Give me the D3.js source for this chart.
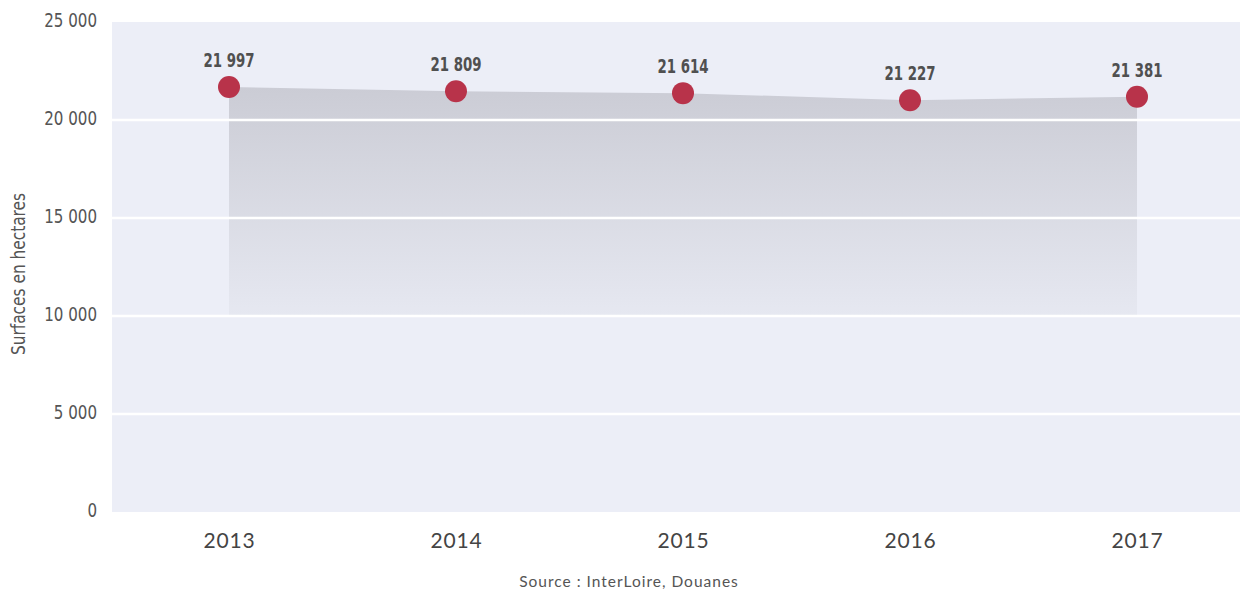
<!DOCTYPE html>
<html>
<head>
<meta charset="utf-8">
<script src="https://cdn.jsdelivr.net/npm/d3@7"></script>
<style>
  body { margin: 0; background: #fff; }
  text { font-family: "DejaVu Sans Condensed", "DejaVu Sans", sans-serif; }
</style>
</head>
<body>
<div id="chart"></div>
<script>
// data
var years = ["2013", "2014", "2015", "2016", "2017"];
var surfaces = [21997, 21809, 21614, 21227, 21381];
// height where each point is drawn in the picture (slightly below the labelled value)
var plotted = [21680, 21470, 21370, 21010, 21190];
var yTicks = [0, 5000, 10000, 15000, 20000, 25000];

var w = 1245, h = 592;
var plotLeft = 112, plotRight = 1240, plotTop = 22, plotBottom = 512;

var svg = d3.select("#chart").append("svg")
  .attr("width", w)
  .attr("height", h);

var x = d3.scalePoint().domain(years).range([229, 1137]);
var y = d3.scaleLinear().domain([0, 25000]).range([plotBottom, plotTop]);

var fmt = function(v) {
  return d3.format(",")(v).replace(/,/g, " ");
};

// plot background
svg.append("rect")
  .attr("x", plotLeft).attr("y", plotTop)
  .attr("width", plotRight - plotLeft).attr("height", plotBottom - plotTop)
  .attr("fill", "#eceef7");

// gradient for the area
var grad = svg.append("defs").append("linearGradient")
  .attr("id", "areaGrad")
  .attr("x1", 0).attr("y1", 0).attr("x2", 0).attr("y2", 1);
grad.append("stop").attr("offset", "0%").attr("stop-color", "#cbccd5");
grad.append("stop").attr("offset", "100%").attr("stop-color", "#e6e8f1");

var area = d3.area()
  .x(function(d, i) { return x(years[i]); })
  .y0(y(10000))
  .y1(function(d) { return y(d); });

svg.append("path")
  .datum(plotted)
  .attr("d", area)
  .attr("fill", "url(#areaGrad)");

// gridlines
svg.append("g")
  .selectAll("line")
  .data(yTicks.filter(function(t) { return t > 0 && t < 25000; }))
  .enter().append("line")
  .attr("x1", plotLeft).attr("x2", plotRight)
  .attr("y1", function(d) { return y(d); })
  .attr("y2", function(d) { return y(d); })
  .attr("stroke", "#fff")
  .attr("stroke-width", 2.5);

// y axis
var yAxis = svg.append("g")
  .attr("transform", "translate(" + (plotLeft - 15) + ",0)")
  .call(d3.axisLeft(y).tickValues(yTicks).tickFormat(fmt).tickSize(0).tickPadding(0));
yAxis.select(".domain").remove();
yAxis.selectAll("text")
  .attr("fill", "#555")
  .style("font-size", "20px")
  .attr("transform", "scale(0.84,1)")
  .attr("x", 0)
  .attr("dy", "0.2em");

svg.append("text")
  .attr("transform", "translate(25,274) rotate(-90) scale(0.9,1)")
  .attr("text-anchor", "middle")
  .attr("fill", "#555")
  .style("font-size", "19px")
  .text("Surfaces en hectares");

// x axis
var xAxis = svg.append("g")
  .attr("transform", "translate(0," + plotBottom + ")")
  .call(d3.axisBottom(x).tickSize(0).tickPadding(0));
xAxis.select(".domain").remove();
xAxis.selectAll("text")
  .attr("fill", "#444")
  .attr("y", 36)
  .attr("dy", 0)
  .style("font-family", "Lato, 'Open Sans', sans-serif")
  .style("font-size", "21px")
  .style("letter-spacing", "0.8px");

// points
svg.append("g")
  .selectAll("circle")
  .data(plotted)
  .enter().append("circle")
  .attr("cx", function(d, i) { return x(years[i]); })
  .attr("cy", function(d) { return y(d); })
  .attr("r", 11)
  .attr("fill", "#b8334a");

// value labels
svg.append("g")
  .selectAll("text")
  .data(surfaces)
  .enter().append("text")
  .attr("transform", function(d, i) {
    return "translate(" + x(years[i]) + "," + (y(plotted[i]) - 20) + ") scale(0.78,1)";
  })
  .attr("text-anchor", "middle")
  .attr("fill", "#505050")
  .style("font-size", "19px")
  .style("font-weight", "bold")
  .text(function(d) { return fmt(d); });

// source
svg.append("text")
  .attr("x", 629).attr("y", 587)
  .attr("text-anchor", "middle")
  .attr("fill", "#555")
  .style("font-family", "Lato, 'Open Sans', sans-serif")
  .style("font-size", "15.5px")
  .style("letter-spacing", "1px")
  .text("Source : InterLoire, Douanes");
</script>
</body>
</html>
